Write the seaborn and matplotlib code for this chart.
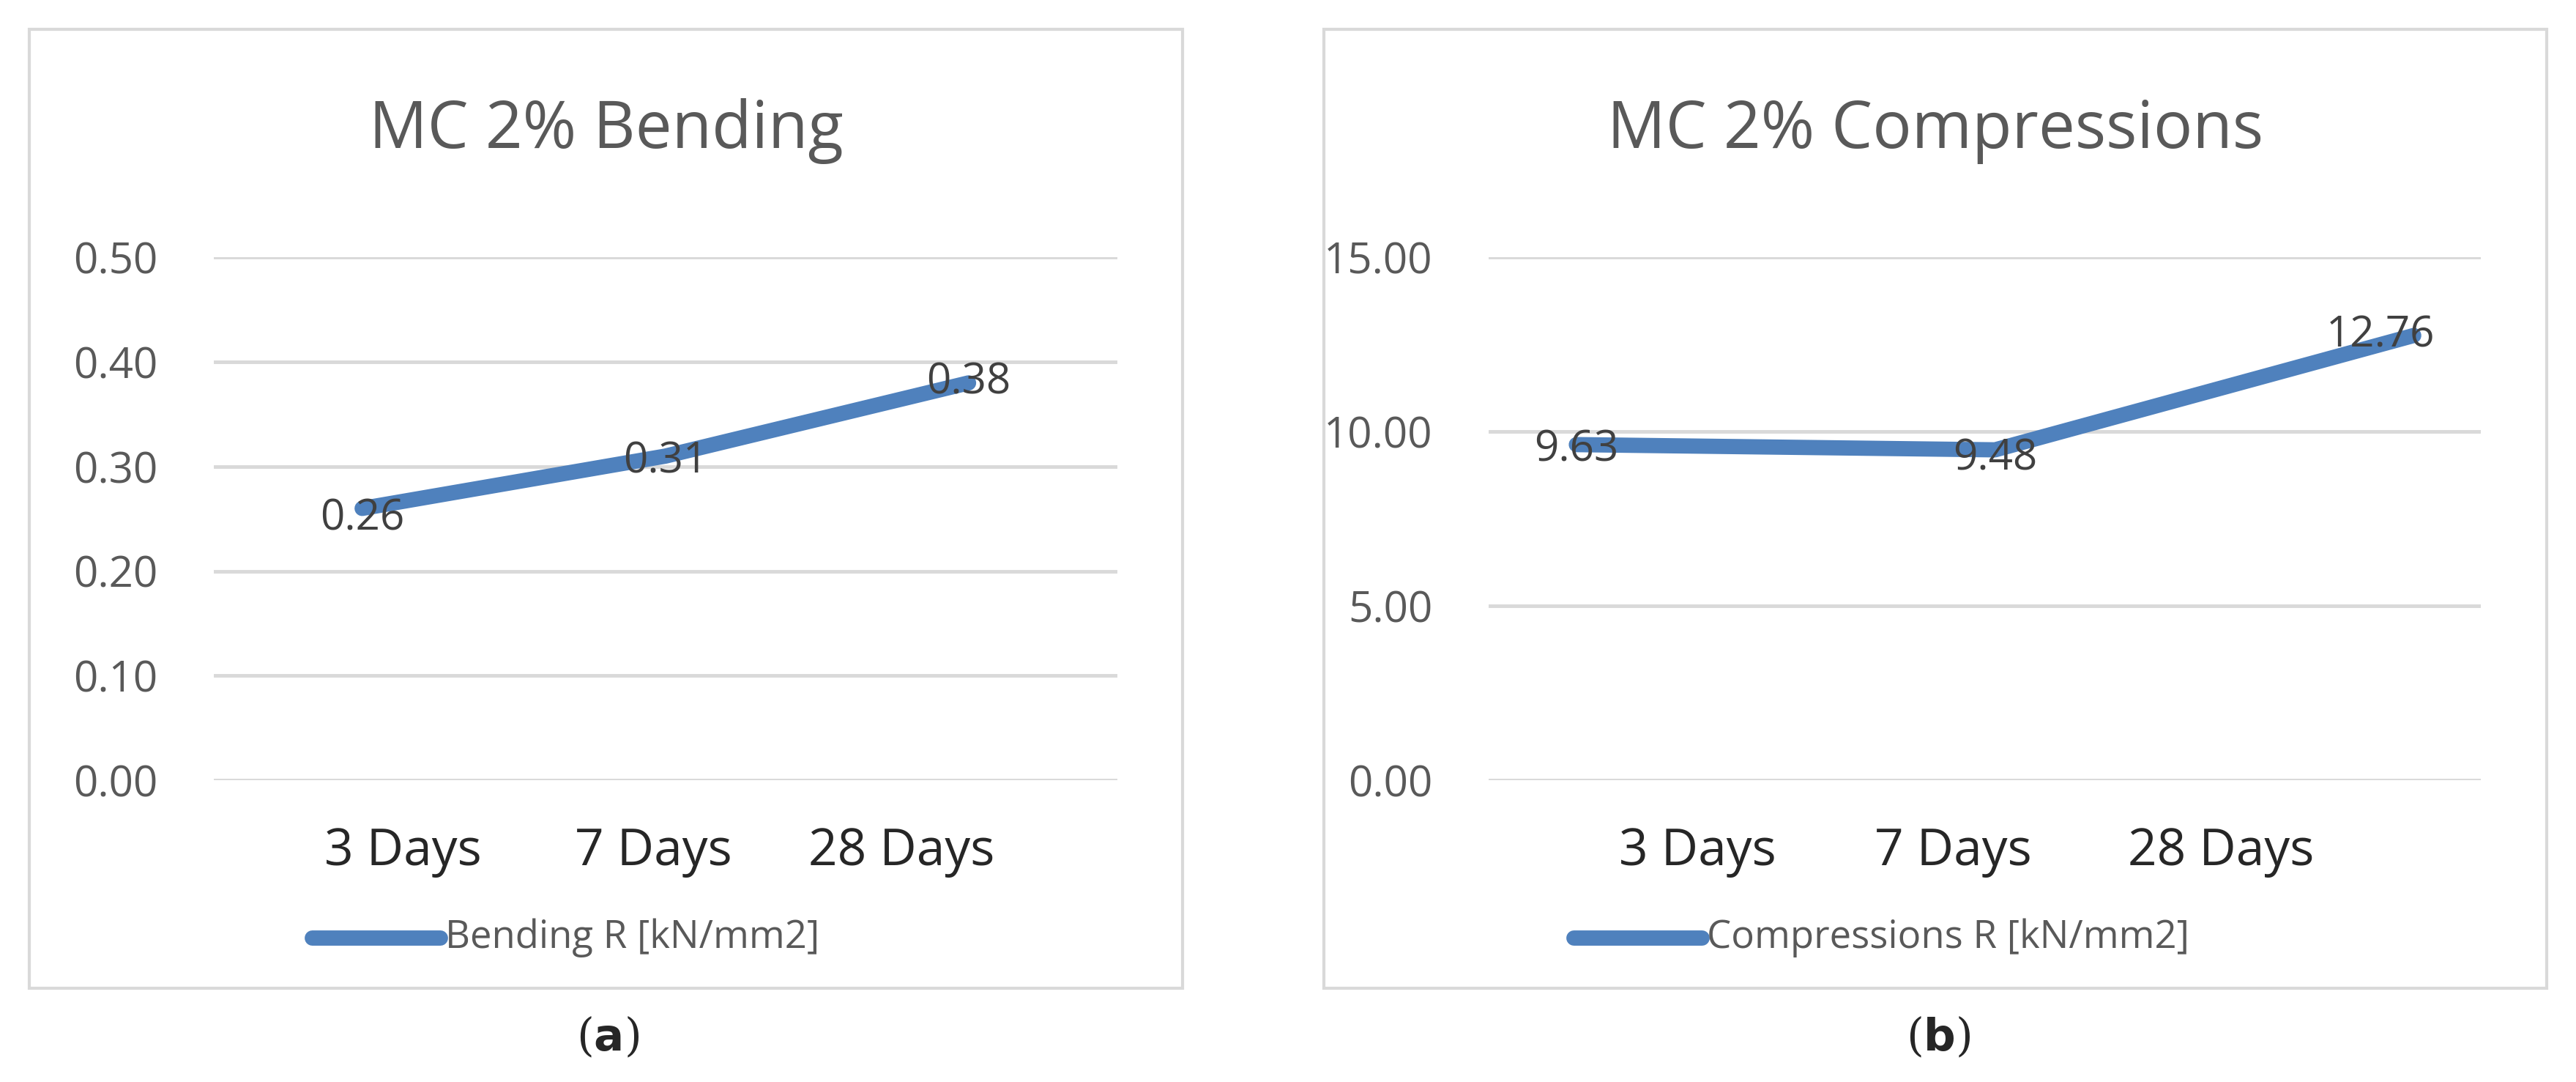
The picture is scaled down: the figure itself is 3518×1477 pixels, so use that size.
import matplotlib
matplotlib.use("Agg")
import matplotlib.pyplot as plt
import seaborn as sns
import pandas as pd
from matplotlib.patches import Rectangle
from matplotlib.lines import Line2D

sns.set_style("white")
plt.rcParams["font.family"] = ["Open Sans", "DejaVu Sans"]

days = ["3 Days", "7 Days", "28 Days"]
bending = [0.26, 0.31, 0.38]
compression = [9.63, 9.48, 12.76]
bend_ticks = [0.00, 0.10, 0.20, 0.30, 0.40, 0.50]
comp_ticks = [0.0, 5.0, 10.0, 15.0]

BLUE = "#4f81bd"
GREY = "#595959"
W, H = 1568, 660

fig = plt.figure(figsize=(35.18, 14.77), dpi=100)

def fx(x): return x / W
def fy(y): return 1 - y / H

panels = [
    dict(box=(18, 18, 720, 603), ax=(130, 680), title="MC 2% Bending", vals=bending,
         ticks=bend_ticks, fmt="{:.2f}", xlim=(-0.49, 2.49), xt=[0.135, 0.96, 1.78],
         leg=(190, 268), legtxt="Bending R [kN/mm2]", cap=370, caplbl="a",
         off=[(0, -0.01), (0, -0.005), (0, 0.0)]),
    dict(box=(806, 18, 1550, 603), ax=(906, 1510), title="MC 2% Compressions", vals=compression,
         ticks=comp_ticks, fmt="{:.2f}", xlim=(-0.21, 2.16), xt=[0.29, 0.90, 1.54],
         leg=(958, 1036), legtxt="Compressions R [kN/mm2]", cap=1180, caplbl="b",
         off=[(0, -0.15), (0, -0.25), (-0.08, 0.0)]),
]

for p in panels:
    x0, y0, x1, y1 = p["box"]
    fig.patches.append(Rectangle((fx(x0), fy(y1)), fx(x1 - x0), (y1 - y0) / H,
                                 transform=fig.transFigure, fill=False,
                                 edgecolor="#d9d9d9", lw=3))
    a0, a1 = p["ax"]
    ax = fig.add_axes([fx(a0), fy(476), fx(a1 - a0), (476 - 157) / H])
    df = pd.DataFrame({"x": range(len(days)), "y": p["vals"]})
    sns.lineplot(data=df, x="x", y="y", ax=ax, color=BLUE, lw=15,
                 solid_capstyle="round")
    ax.set_xlim(*p["xlim"])
    ax.set_ylim(p["ticks"][0], p["ticks"][-1])
    ax.set_yticks(p["ticks"])
    ax.set_yticklabels([p["fmt"].format(t) for t in p["ticks"]], fontsize=42, color=GREY)
    ax.set_xticks(p["xt"])
    ax.set_xticklabels(days, fontsize=50, color="#262626")
    ax.tick_params(axis="y", pad=55, length=0)
    ax.tick_params(axis="x", pad=45, length=0)
    ax.grid(axis="y", color="#d9d9d9", lw=3.5)
    ax.set_axisbelow(True)
    for s in ax.spines.values():
        s.set_visible(False)
    ax.set_xlabel("")
    ax.set_ylabel("")
    for i, v in enumerate(p["vals"]):
        dx, dy = p["off"][i]
        ax.text(i + dx, v + dy, f"{v:.2f}", fontsize=42, color="#404040",
                ha="center", va="center")
    fig.text((fx(x0) + fx(x1)) / 2, fy(80), p["title"], fontsize=64, color=GREY,
             ha="center", va="center")
    l0, l1 = p["leg"]
    fig.add_artist(Line2D([fx(l0), fx(l1)], [fy(572), fy(572)], transform=fig.transFigure,
                          color=BLUE, lw=15, solid_capstyle="round"))
    fig.text(fx(l1 + 3), fy(572), p["legtxt"], fontsize=38, color=GREY, va="center")
    fig.text(fx(p["cap"]), fy(633), r"($\mathbf{" + p["caplbl"] + "}$)", fontsize=44,
             family="DejaVu Serif", ha="center", va="center")

fig.savefig("out.png", dpi=100)
